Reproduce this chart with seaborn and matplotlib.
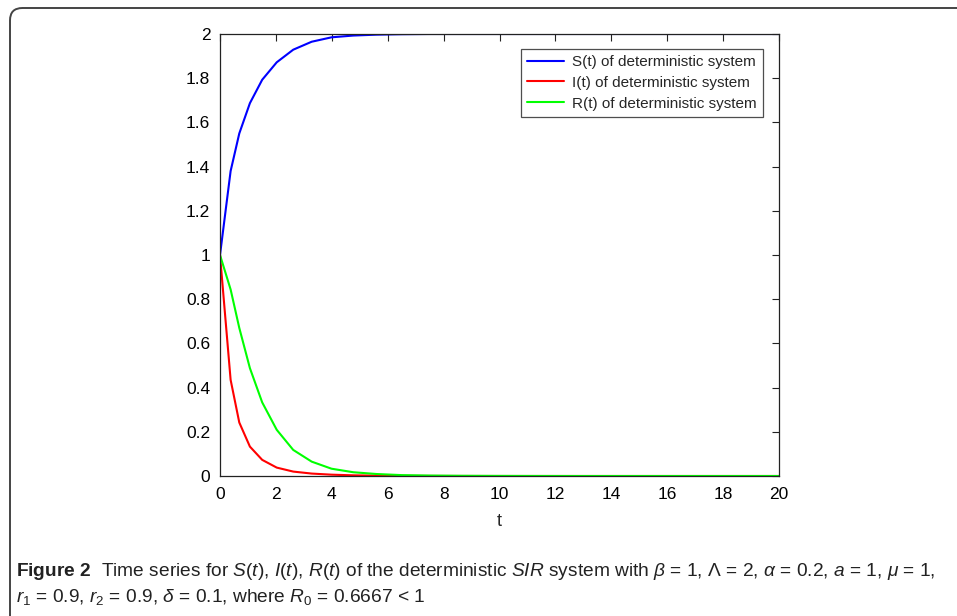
import numpy as np
import pandas as pd
import matplotlib
matplotlib.use("Agg")
import matplotlib.pyplot as plt
import seaborn as sns
from matplotlib.patches import FancyBboxPatch

# values (solver output points)
t = [0, 0.38, 0.69, 1.07, 1.51, 2.03, 2.62, 3.28, 3.99, 4.77,
     5.6, 6.5, 7.5, 8.6, 9.8, 11.2, 12.8, 14.6, 16.6, 18.8, 20]
S = [1, 1.380, 1.550, 1.687, 1.793, 1.872, 1.929, 1.965, 1.985, 1.993,
     1.997, 1.999, 2.0, 2.0, 2.0, 2.0, 2.0, 2.0, 2.0, 2.0, 2.0]
I = [1, 0.435, 0.242, 0.133, 0.073, 0.038, 0.020, 0.011, 0.006, 0.003,
     0.0015, 0.0007, 0.0003, 0.0001, 0, 0, 0, 0, 0, 0, 0]
R = [1, 0.844, 0.670, 0.488, 0.333, 0.209, 0.118, 0.065, 0.033, 0.017,
     0.009, 0.004, 0.002, 0.001, 0.0005, 0.0002, 0, 0, 0, 0, 0]
labels = ["S(t) of deterministic system", "I(t) of deterministic system",
          "R(t) of deterministic system"]
colors = ["#0000ff", "#ff0000", "#00ff00"]
xticks = list(range(0, 21, 2))
yticks = [0, 0.2, 0.4, 0.6, 0.8, 1, 1.2, 1.4, 1.6, 1.8, 2]
ytick_labels = ["0", "0.2", "0.4", "0.6", "0.8", "1", "1.2", "1.4", "1.6", "1.8", "2"]

df = pd.concat([
    pd.DataFrame({"t": t, "value": S, "series": labels[0]}),
    pd.DataFrame({"t": t, "value": I, "series": labels[1]}),
    pd.DataFrame({"t": t, "value": R, "series": labels[2]}),
])

sns.set_style("white")
plt.rcParams["font.family"] = ["Liberation Sans", "DejaVu Sans"]
plt.rcParams["mathtext.fontset"] = "custom"
plt.rcParams["mathtext.rm"] = "Liberation Sans"
plt.rcParams["mathtext.it"] = "Liberation Sans:italic"
plt.rcParams["mathtext.bf"] = "Liberation Sans:bold"

fig = plt.figure(figsize=(9.57, 6.16), dpi=100)
ax = fig.add_axes([220 / 957, 1 - 476 / 616, (779 - 220) / 957, (476 - 34) / 616])

sns.lineplot(data=df, x="t", y="value", hue="series", palette=colors,
             linewidth=1.5, ax=ax, sort=False)

ax.set_xlim(0, 20)
ax.set_ylim(0, 2)
ax.set_xticks(xticks)
ax.set_yticks(yticks)
ax.set_yticklabels(ytick_labels)
ax.tick_params(direction="in", length=5, width=0.8, top=True, right=True,
               labelsize=12.5, colors="#222222", labelcolor="black")
ax.tick_params(axis="x", pad=8)
ax.tick_params(axis="y", pad=7)
for s in ax.spines.values():
    s.set_visible(True)
    s.set_color("#222222")
    s.set_linewidth(0.9)
ax.set_xlabel("t", fontsize=13, labelpad=8)
ax.set_ylabel("")

leg = ax.legend(loc="upper right", bbox_to_anchor=(0.9705, 0.9665), fontsize=11,
                frameon=True, fancybox=False, handlelength=2.4, handletextpad=0.5,
                borderpad=0.4, labelspacing=0.45, borderaxespad=0)
leg.get_frame().set_edgecolor("#222222")
leg.get_frame().set_linewidth(0.9)

# outer rounded frame (open to the right and bottom edge)
frame = FancyBboxPatch((10 / 957, -0.1), 1.2, 1 - 8 / 616 + 0.1,
                       boxstyle="round,pad=0,rounding_size=0.013",
                       transform=fig.transFigure, fill=False,
                       edgecolor="#444444", linewidth=1.4, mutation_aspect=957 / 616)
fig.patches.append(frame)

# caption
line1 = (r"$\mathbf{Figure\ 2}$  Time series for $S(t)$, $I(t)$, $R(t)$ of the deterministic "
         r"$SIR$ system with $\beta$ = 1, $\Lambda$ = 2, $\alpha$ = 0.2, $a$ = 1, $\mu$ = 1,")
line2 = r"$r_1$ = 0.9, $r_2$ = 0.9, $\delta$ = 0.1, where $R_0$ = 0.6667 < 1"
fig.text(16 / 957, 1 - 572 / 616, line1, fontsize=13.8, va="center", color="#222222")
fig.text(16 / 957, 1 - 597 / 616, line2, fontsize=13.8, va="center", color="#222222")

fig.savefig("out.png", dpi=100)
